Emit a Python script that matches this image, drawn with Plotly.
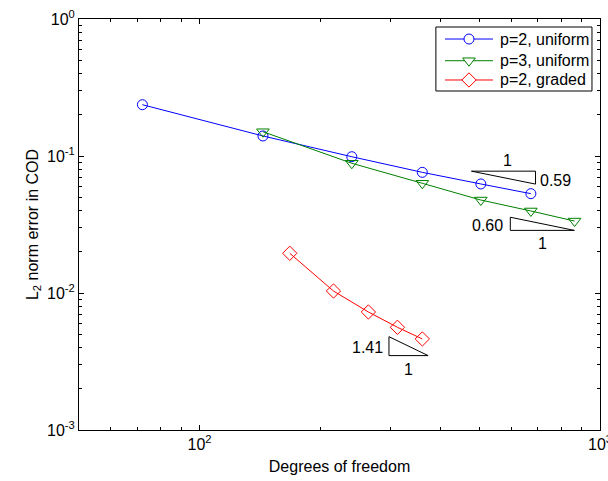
import numpy as np
import plotly.graph_objects as go

# ---- data ----
dof_p2_uniform = [72, 144, 240, 360, 504, 672]
err_p2_uniform = [0.2368, 0.140, 0.0988, 0.0760, 0.0625, 0.0531]

dof_p3_uniform = [144, 240, 360, 504, 672, 864]
err_p3_uniform = [0.1504, 0.0885, 0.0632, 0.0477, 0.0397, 0.0335]

dof_p2_graded = [168, 216, 264, 312, 360]
err_p2_graded = [0.0195, 0.01034, 0.00727, 0.00562, 0.00462]

series_names = ["p=2, uniform", "p=3, uniform", "p=2, graded"]
slope_labels = ["0.59", "0.60", "1.41"]

x_tickvals = [100, 1000]
x_ticktext = ["10<sup>2</sup>", "10<sup>3</sup>"]
y_tickvals = [1e-3, 1e-2, 1e-1, 1]
y_ticktext = ["10<sup>-3</sup>", "10<sup>-2</sup>", "10<sup>-1</sup>", "10<sup>0</sup>"]

FONT = "Liberation Sans, Arial, Helvetica, sans-serif"
FS = 16
XR = [np.log10(50), 3]
YR = [-3, 0]

colors = ["#0000ff", "#008000", "#ff0000"]
symbols = ["circle-open", "triangle-down-open", "diamond-open"]
msizes = [10, 11, 11]

fig = go.Figure()
for xs, ys, nm, c, s, ms in zip([dof_p2_uniform, dof_p3_uniform, dof_p2_graded],
                                [err_p2_uniform, err_p3_uniform, err_p2_graded],
                                series_names, colors, symbols, msizes):
    fig.add_trace(go.Scatter(x=xs, y=ys, name=nm, mode="lines+markers",
                             line=dict(color=c, width=1), showlegend=False,
                             marker=dict(symbol=s, size=ms, color=c,
                                         line=dict(width=1, color=c))))

# ---- slope triangles (log10 coordinates) ----
def tri(x0, y0, w, s, kind):
    x1 = x0 + w
    if kind == "upper":   # horizontal top, vertical right
        xs = [x0, x1, x1, x0]
        ys = [y0, y0, y0 - s * w, y0]
    else:                 # vertical left, horizontal bottom
        xs = [x0, x0, x1, x0]
        ys = [y0, y0 - s * w, y0 - s * w, y0]
    fig.add_trace(go.Scatter(x=[10 ** v for v in xs], y=[10 ** v for v in ys],
                             mode="lines", line=dict(color="black", width=1),
                             showlegend=False, hoverinfo="skip"))
    return x1, y0 - s * w

ann_font = dict(family=FONT, size=FS, color="black")
# blue
bx0, by0 = 2.679, -1.1107
bx1, by1 = tri(bx0, by0, 0.160, float(slope_labels[0]), "upper")
fig.add_annotation(x=(bx0 + bx1) / 2, y=by0, text="1", showarrow=False, yanchor="bottom",
                   xshift=4, yshift=0, font=ann_font)
fig.add_annotation(x=bx1, y=(by0 + by1) / 2, text=slope_labels[0], showarrow=False,
                   xanchor="left", xshift=2, yshift=-3, font=ann_font)
# green
gx0, gy0 = 2.776, -1.447
gx1, gy1 = tri(gx0, gy0, 0.160, float(slope_labels[1]), "lower")
fig.add_annotation(x=gx0, y=(gy0 + gy1) / 2, text=slope_labels[1], showarrow=False,
                   xanchor="right", xshift=-5, yshift=-2, font=ann_font)
fig.add_annotation(x=(gx0 + gx1) / 2, y=gy1, text="1", showarrow=False, yanchor="top",
                   yshift=-3, font=ann_font)
# red
rx0, ry0 = 2.473, -2.319
rx1, ry1 = tri(rx0, ry0, 0.0978, float(slope_labels[2]), "lower")
fig.add_annotation(x=rx0, y=(ry0 + ry1) / 2, text=slope_labels[2], showarrow=False,
                   xanchor="right", xshift=-4, yshift=-1, font=ann_font)
fig.add_annotation(x=(rx0 + rx1) / 2, y=ry1, text="1", showarrow=False, yanchor="top",
                   yshift=-3, font=ann_font)

# ---- legend box (drawn in paper coordinates) ----
leg_x0, leg_x1, leg_y0, leg_y1 = 0.685, 0.9846, 0.8248, 0.9805
row_y = [0.9513, 0.8985, 0.8516]
ln_x0, ln_x1, txt_x = 0.7025, 0.7946, 0.8042

def px2x(p):
    return 10 ** (XR[0] + p * (XR[1] - XR[0]))

def py2y(p):
    return 10 ** (YR[0] + p * (YR[1] - YR[0]))

fig.add_shape(type="rect", xref="paper", yref="paper", x0=leg_x0, x1=leg_x1,
              y0=leg_y0, y1=leg_y1, line=dict(color="black", width=1), fillcolor="white",
              layer="below")
for i, (nm, c, s, ms) in enumerate(zip(series_names, colors, symbols, msizes)):
    fig.add_shape(type="line", xref="paper", yref="paper", x0=ln_x0, x1=ln_x1,
                  y0=row_y[i], y1=row_y[i], line=dict(color=c, width=1), layer="below")
    fig.add_annotation(xref="paper", yref="paper", x=txt_x, y=row_y[i], text=nm,
                       showarrow=False, xanchor="left", yanchor="middle", font=ann_font)
    fig.add_trace(go.Scatter(x=[px2x((ln_x0 + ln_x1) / 2)], y=[py2y(row_y[i])],
                             mode="markers", showlegend=False, hoverinfo="skip",
                             marker=dict(symbol=s.replace("-open", ""), size=ms, color="white",
                                         line=dict(width=1, color=c))))

x_minor = [m * 10 ** e for e in (1, 2) for m in range(2, 10) if 50 <= m * 10 ** e <= 1000]
y_minor = [m * 10 ** e for e in (-3, -2, -1) for m in range(2, 10)]

axis_common = dict(showline=True, linecolor="black", linewidth=1, mirror="ticks",
                   ticks="inside", ticklen=5, tickcolor="black", tickwidth=1,
                   showgrid=False, zeroline=False, automargin=False,
                   ticklabeloverflow="allow",
                   tickfont=dict(family=FONT, size=FS, color="black"))

fig.update_xaxes(type="log", range=XR, tickmode="array",
                 tickvals=x_tickvals, ticktext=x_ticktext,
                 minor=dict(tickmode="array", tickvals=x_minor, ticks="inside", ticklen=3,
                            tickcolor="black", tickwidth=1, showgrid=False),
                 title=dict(text="Degrees of freedom", font=dict(family=FONT, size=FS, color="black"),
                            standoff=8),
                 **axis_common)
fig.update_yaxes(type="log", range=YR, tickmode="array",
                 tickvals=y_tickvals, ticktext=y_ticktext,
                 minor=dict(tickmode="array", tickvals=y_minor, ticks="inside", ticklen=3,
                            tickcolor="black", tickwidth=1, showgrid=False),
                 title=dict(text="L<sub>2</sub> norm error in COD",
                            font=dict(family=FONT, size=FS, color="black"), standoff=4),
                 **axis_common)

fig.update_layout(
    width=608, height=481,
    margin=dict(l=79, r=8, t=19, b=51),
    plot_bgcolor="white", paper_bgcolor="white",
    font=dict(family=FONT, size=FS, color="black"),
    showlegend=False,
)

fig.write_html("out.html", config={"displayModeBar": False},
               post_script="document.body.style.margin='0';")
